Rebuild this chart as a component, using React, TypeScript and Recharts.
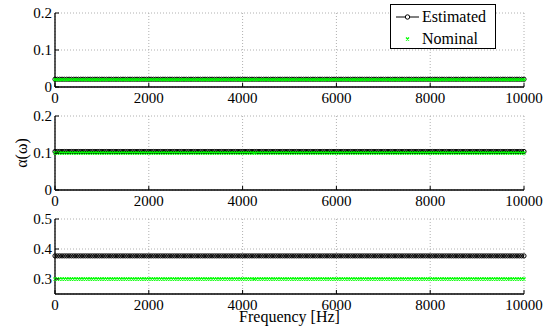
import { CartesianGrid, Label, Line, LineChart, XAxis, YAxis } from 'recharts'

// sample grid of the frequency sweep (Hz)
const frequencies = Array.from({ length: 201 }, (_, i) => i * 50)
const xTicks = [0, 2000, 4000, 6000, 8000, 10000]

// one entry per subplot, top to bottom
const estimatedLevels = [0.021, 0.104, 0.377]
const nominalLevels = [0.02, 0.1, 0.3]
const yDomains: [number, number][] = [[0, 0.2], [0, 0.2], [0.25, 0.5]]
const yTicks = [[0, 0.1, 0.2], [0, 0.1, 0.2], [0.3, 0.4, 0.5]]

const FONT = '"Liberation Serif", "Times New Roman", serif'
const GREEN = '#00ff00'
const W = 545
const PLOT_L = 55
const PLOT_R = 524
const MT = 13

const BottomTick = (p: any) => (
  <g>
    <line x1={p.x} x2={p.x} y1={p.y} y2={p.y - 4} stroke="#000" />
    <text x={p.x} y={p.y + 16} textAnchor="middle" fontSize={15} fontFamily={FONT} fill="#000">
      {p.payload.value}
    </text>
  </g>
)
const TopTick = (p: any) => <line x1={p.x} x2={p.x} y1={p.y} y2={p.y + 4} stroke="#000" />
const LeftTick = (p: any) => (
  <g>
    <line x1={p.x} x2={p.x + 4} y1={p.y} y2={p.y} stroke="#000" />
    <text x={p.x - 3} y={p.y} dy="0.35em" textAnchor="end" fontSize={15} fontFamily={FONT} fill="#000">
      {p.payload.value}
    </text>
  </g>
)
const RightTick = (p: any) => <line x1={p.x} x2={p.x - 4} y1={p.y} y2={p.y} stroke="#000" />

const CircleDot = (p: any) => (
  <circle key={p.index} cx={p.cx} cy={p.cy} r={2.1} fill="none" stroke="#000" strokeWidth={1} />
)
const CrossDot = (p: any) => (
  <path
    key={p.index}
    d={`M${p.cx - 1.5},${p.cy - 1.5}L${p.cx + 1.5},${p.cy + 1.5}M${p.cx - 1.5},${p.cy + 1.5}L${p.cx + 1.5},${p.cy - 1.5}`}
    stroke={GREEN}
    strokeWidth={1.3}
  />
)

function LegendBox() {
  return (
    <div
      style={{
        position: 'absolute',
        left: 390,
        top: 4,
        width: 104,
        height: 43,
        border: '1px solid #000',
        background: '#fff',
      }}
    >
      <svg width={104} height={43} style={{ position: 'absolute', left: 0, top: 0 }}>
        <line x1={5} x2={28} y1={12} y2={12} stroke="#000" strokeWidth={1} />
        <circle cx={16.5} cy={12} r={2.2} fill="#fff" stroke="#000" />
        <path d="M15,32.5L18,35.5M15,35.5L18,32.5" stroke={GREEN} strokeWidth={1.3} />
        <text x={31} y={17} fontSize={16} fontFamily={FONT}>Estimated</text>
        <text x={31} y={39} fontSize={16} fontFamily={FONT}>Nominal</text>
      </svg>
    </div>
  )
}

function Panel({ idx, top, plotH, xh }: { idx: number; top: number; plotH: number; xh: number }) {
  const data = frequencies.map((f) => ({ f, est: estimatedLevels[idx], nom: nominalLevels[idx] }))
  const domain = yDomains[idx]
  const ticks = yTicks[idx]
  return (
    <div style={{ position: 'absolute', left: 0, top }}>
      <LineChart
        width={W}
        height={MT + plotH + xh}
        data={data}
        margin={{ top: MT, right: W - PLOT_R, bottom: 0, left: 0 }}
      >
        <CartesianGrid stroke="#b0b0b0" strokeDasharray="1 2" />
        <XAxis
          dataKey="f"
          type="number"
          domain={[0, 10000]}
          ticks={xTicks}
          height={xh}
          tickSize={0}
          tickMargin={0}
          tick={BottomTick}
          axisLine={{ stroke: '#000', strokeWidth: 1.3 }}
          interval={0}
        >
          {idx === 2 && (
            <Label
              content={({ viewBox }: any) => (
                <text
                  x={viewBox.x + viewBox.width / 2}
                  y={viewBox.y + 28}
                  textAnchor="middle"
                  fontSize={16}
                  fontFamily={FONT}
                  fill="#000"
                >
                  Frequency [Hz]
                </text>
              )}
            />
          )}
        </XAxis>
        <XAxis
          xAxisId="top"
          orientation="top"
          type="number"
          domain={[0, 10000]}
          ticks={xTicks}
          height={0}
          tickSize={0}
          tickMargin={0}
          tick={TopTick}
          axisLine={{ stroke: '#000', strokeWidth: 1.3 }}
          interval={0}
        />
        <YAxis
          type="number"
          domain={domain}
          ticks={ticks}
          width={PLOT_L}
          tickSize={0}
          tickMargin={0}
          tick={LeftTick}
          axisLine={{ stroke: '#000', strokeWidth: 1.3 }}
          interval={0}
        >
          {idx === 1 && (
            <Label
              content={({ viewBox }: any) => {
                const cx = 21
                const cy = viewBox.y + viewBox.height / 2
                return (
                  <text
                    x={cx}
                    y={cy}
                    transform={`rotate(-90 ${cx} ${cy})`}
                    textAnchor="middle"
                    dy="0.35em"
                    fontSize={16}
                    fontFamily={FONT}
                    fill="#000"
                  >
                    α(ω)
                  </text>
                )
              }}
            />
          )}
        </YAxis>
        <YAxis
          yAxisId="right"
          orientation="right"
          type="number"
          domain={domain}
          ticks={ticks}
          width={0}
          tickSize={0}
          tickMargin={0}
          tick={RightTick}
          axisLine={{ stroke: '#000', strokeWidth: 1.3 }}
          interval={0}
        />
        <Line
          dataKey="est"
          stroke="#000"
          strokeWidth={1}
          dot={CircleDot}
          isAnimationActive={false}
        />
        <Line
          dataKey="nom"
          stroke={GREEN}
          strokeWidth={0}
          strokeOpacity={0}
          dot={CrossDot}
          isAnimationActive={false}
        />
      </LineChart>
    </div>
  )
}

export default function App() {
  return (
    <div style={{ position: 'absolute', left: 0, top: 0, width: W, height: 329, background: '#fff' }}>
      <Panel idx={1} top={116 - MT} plotH={74} xh={25} />
      <Panel idx={2} top={219 - MT} plotH={75} xh={35} />
      <Panel idx={0} top={0} plotH={74} xh={25} />
      <LegendBox />
    </div>
  )
}
